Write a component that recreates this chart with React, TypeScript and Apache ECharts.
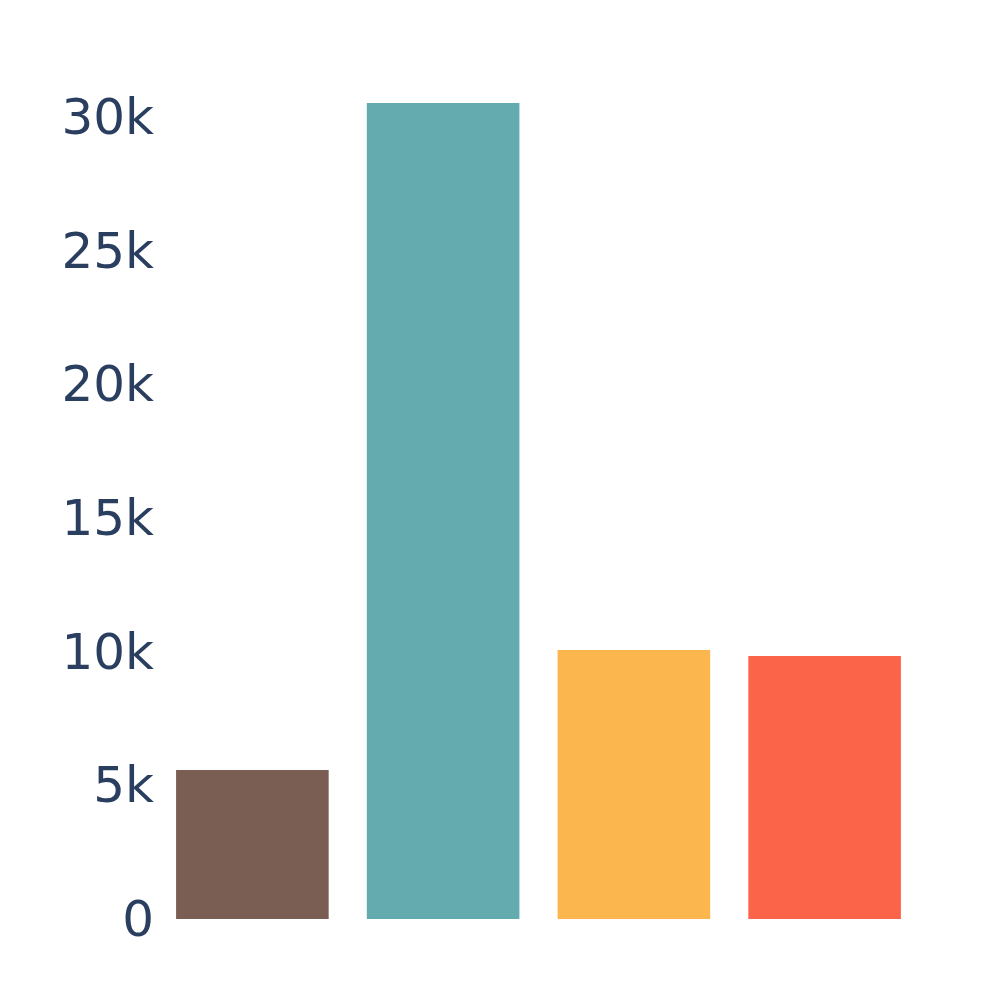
import React, { useEffect, useRef } from "react";
import * as echarts from "echarts";

const categories = ["A", "B", "C", "D"];
const values = [5570, 30530, 10060, 9840];
const colors = ["#7a5e54", "#63abaf", "#fbb64d", "#fb6449"];
const yTicks = [0, 5000, 10000, 15000, 20000, 25000, 30000];

export default function App() {
  const ref = useRef<HTMLDivElement>(null);
  useEffect(() => {
    const chart = echarts.init(ref.current!, null, { renderer: "svg" });
    chart.setOption({
      animation: false,
      grid: { left: 157, right: 80, top: 61, bottom: 81 },
      xAxis: {
        type: "category",
        data: categories,
        axisLine: { show: false },
        axisTick: { show: false },
        axisLabel: { show: false },
      },
      yAxis: {
        type: "value",
        min: 0,
        max: 32100,
        interval: 5000,
        splitLine: { show: false },
        axisLabel: {
          showMaxLabel: false,
          margin: 3,
          fontSize: 50,
          fontFamily: "DejaVu Sans",
          color: "#2a3f5f",
          formatter: (v: number) => (yTicks.includes(v) ? (v === 0 ? "0" : v / 1000 + "k") : ""),
        },
      },
      series: [
        {
          type: "bar",
          barCategoryGap: "20%",
          data: values.map((v, i) => ({ value: v, itemStyle: { color: colors[i] } })),
        },
      ],
    });
    return () => chart.dispose();
  }, []);
  return <div ref={ref} style={{ width: 1000, height: 1000, position: "absolute", left: 0, top: 0 }} />;
}
